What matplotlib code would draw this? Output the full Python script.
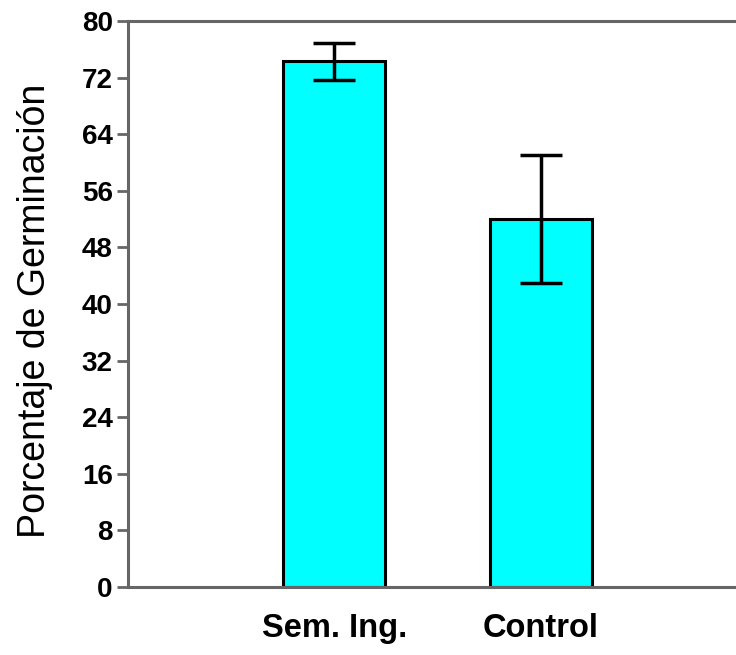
import numpy as np
import matplotlib.pyplot as plt

# data
grupos = ['Sem. Ing.', 'Control']
medias = [74.3, 52.0]
errores = [2.6, 9.1]
yticks = list(range(0, 81, 8))

plt.rcParams['font.family'] = ['Liberation Sans', 'DejaVu Sans']

fig = plt.figure(figsize=(7.36, 6.55), dpi=100)
ax = fig.add_axes([128/736, 1-587/655, 1-128/736, (587-21)/655])

x = np.arange(1, len(grupos)+1)
ax.bar(x, medias, width=0.494, color='#00ffff', edgecolor='black', linewidth=2.2, zorder=2)
ax.errorbar(x, medias, yerr=errores, fmt='none', ecolor='black', elinewidth=2.5,
            capsize=15, capthick=2.5, zorder=3)

ax.set_xlim(0, 2.947)
ax.set_ylim(0, 80)
ax.set_yticks(yticks)
ax.set_xticks(x)
ax.set_xticklabels(grupos, fontsize=23.5, fontweight='bold')
for lab in ax.get_yticklabels():
    lab.set_fontsize(20)
    lab.set_fontweight('bold')

ax.spines['right'].set_visible(False)
for s in ['left', 'top', 'bottom']:
    ax.spines[s].set_color('#666666')
    ax.spines[s].set_linewidth(2.2)
ax.tick_params(axis='y', direction='out', length=8, width=2, color='#666666', pad=3)
ax.tick_params(axis='x', length=0, pad=19)

ax.set_ylabel('Porcentaje de Germinación', fontsize=27)
ax.yaxis.set_label_coords(-0.124, 0.488)

plt.savefig('out.png', dpi=100)
